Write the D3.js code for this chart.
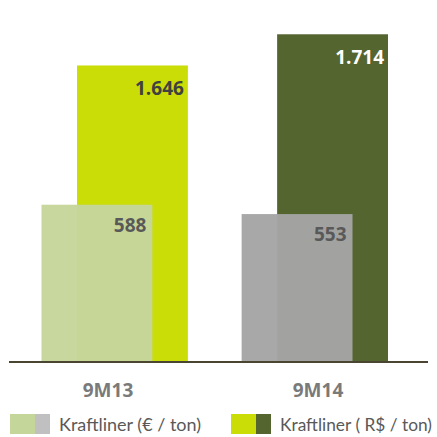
<!DOCTYPE html>
<html><head><meta charset="utf-8">
<script src="https://cdn.jsdelivr.net/npm/d3@7"></script>
<style>html,body{margin:0;padding:0;background:#fff;}</style>
</head><body>
<svg id="chart" width="437" height="437"></svg>
<script>
const categories = ["9M13", "9M14"];
const valuesEUR = [588, 553];
const valuesBRL = [1646, 1714];
const labelsEUR = ["588", "553"];
const labelsBRL = ["1.646", "1.714"];
const legendLabels = ["Kraftliner (€ / ton)", "Kraftliner ( R$ / ton)"];

const backColors = ["#cadd06", "#54652f"];
const frontColors = ["#c5d69b", "#a5a5a5"];
const backLabelColors = ["#404040", "#ffffff"];

const svg = d3.select("#chart");
const W = 437;
const baseY = 362;

const xBack = d3.scaleBand().domain(categories).range([77, 388]).paddingInner(0.446).paddingOuter(0);
const frontShift = -35.5;
const xLabel = d3.scalePoint().domain(categories).range([108, 318]);

const yEUR = d3.scaleLinear().domain([0, 1400]).range([baseY, baseY - 1400 * 0.2675]);
const yBRL = d3.scaleLinear().domain([1000, 1800]).range([baseY, baseY - 800 * 0.459]);

const fontB = "'Open Sans', sans-serif";

// back bars (R$)
svg.append("g").selectAll("rect").data(categories).join("rect")
  .attr("x", d => xBack(d))
  .attr("width", xBack.bandwidth())
  .attr("y", (d, i) => yBRL(valuesBRL[i]))
  .attr("height", (d, i) => baseY - yBRL(valuesBRL[i]))
  .attr("fill", (d, i) => backColors[i]);

// front bars (EUR)
svg.append("g").selectAll("rect").data(categories).join("rect")
  .attr("x", d => xBack(d) + frontShift)
  .attr("width", xBack.bandwidth())
  .attr("y", (d, i) => yEUR(valuesEUR[i]))
  .attr("height", (d, i) => baseY - yEUR(valuesEUR[i]))
  .attr("fill", (d, i) => frontColors[i])
  .attr("fill-opacity", 0.97);

// baseline
svg.append("line").attr("x1", 9).attr("x2", 428).attr("y1", baseY).attr("y2", baseY)
  .attr("stroke", "#4a4530").attr("stroke-width", 2);

// value labels
svg.append("g").selectAll("text").data(categories).join("text")
  .attr("x", d => xBack(d) + xBack.bandwidth() - 4)
  .attr("y", (d, i) => yBRL(valuesBRL[i]) + 30)
  .attr("text-anchor", "end")
  .attr("font-family", fontB).attr("font-weight", "bold").attr("font-size", 19)
  .attr("fill", (d, i) => backLabelColors[i])
  .text((d, i) => labelsBRL[i]);

svg.append("g").selectAll("text").data(categories).join("text")
  .attr("x", d => xBack(d) + frontShift + xBack.bandwidth() - 6)
  .attr("y", (d, i) => yEUR(valuesEUR[i]) + 27)
  .attr("text-anchor", "end")
  .attr("font-family", fontB).attr("font-weight", "bold").attr("font-size", 19)
  .attr("fill", "#595959")
  .text((d, i) => labelsEUR[i]);

// category labels
svg.append("g").selectAll("text").data(categories).join("text")
  .attr("x", d => xLabel(d))
  .attr("y", 397)
  .attr("text-anchor", "middle")
  .attr("font-family", fontB).attr("font-weight", "bold").attr("font-size", 19)
  .attr("fill", "#7a7a7a")
  .text(d => d);

// legend
const legendSw = [["#c5d69b", "#c0c0c0"], ["#cadd06", "#54652f"]];
const legendX = [10, 231];
const lg = svg.append("g");
legendLabels.forEach((lab, i) => {
  const g = lg.append("g").attr("transform", `translate(${legendX[i]},414)`);
  g.append("rect").attr("x", 0).attr("y", 0).attr("width", 26).attr("height", 20).attr("fill", legendSw[i][0]);
  g.append("rect").attr("x", 25).attr("y", 0).attr("width", 15).attr("height", 20).attr("fill", legendSw[i][1]);
  const t = g.append("text").attr("x", 49).attr("y", 17)
    .attr("font-family", "Lato, sans-serif").attr("font-size", 18).attr("fill", "#595959")
    .text(lab);
  const maxW = W - legendX[i] - 49 - 5;
  const w = t.node().getComputedTextLength();
  if (w > maxW) t.attr("textLength", maxW).attr("lengthAdjust", "spacingAndGlyphs");
});
</script>
</body></html>
